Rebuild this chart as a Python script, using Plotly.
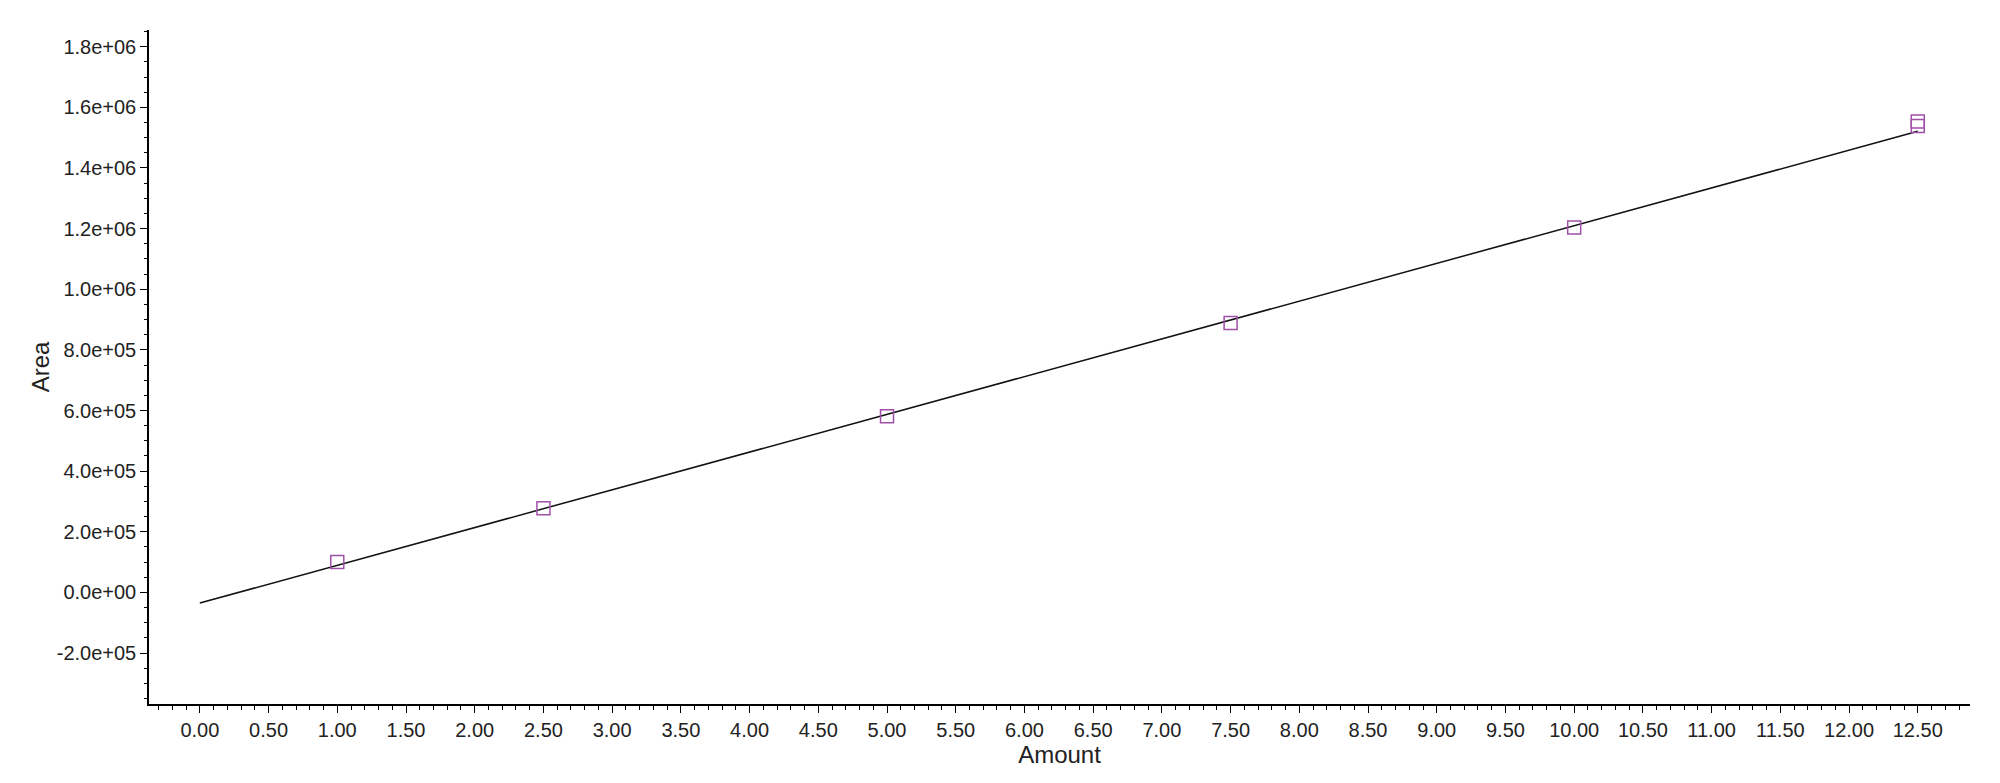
import plotly.graph_objects as go

# calibration standards (amount vs. peak area)
amount = [1.0, 2.5, 5.0, 7.5, 10.0, 12.5, 12.5]
area = [100000, 278000, 581000, 889000, 1204000, 1553000, 1538000]

# fitted calibration line at its two ends
fit_amount = [0.0, 12.5]
fit_area = [-35000, 1521000]

y_tickvals = [-200000, 0, 200000, 400000, 600000, 800000, 1000000,
              1200000, 1400000, 1600000, 1800000]
y_ticktext = ["-2.0e+05", "0.0e+00", "2.0e+05", "4.0e+05", "6.0e+05", "8.0e+05",
              "1.0e+06", "1.2e+06", "1.4e+06", "1.6e+06", "1.8e+06"]

font = dict(family="Liberation Sans, Arial, sans-serif", size=20, color="#222222")

fig = go.Figure()

fig.add_trace(go.Scatter(
    x=fit_amount, y=fit_area, mode="lines",
    line=dict(color="#111111", width=1.5),
    showlegend=False,
))

fig.add_trace(go.Scatter(
    x=amount, y=area, mode="markers",
    marker=dict(symbol="square-open", size=13, color="#a050a8",
                line=dict(width=1.5, color="#a050a8")),
    showlegend=False,
))

# page body has an 8px margin, so the figure is shrunk by that much
fig.update_layout(
    width=1984, height=767,
    margin=dict(l=141, r=22, t=22, b=71),
    paper_bgcolor="white", plot_bgcolor="white",
    font=font,
)

fig.update_xaxes(
    range=[-0.37, 12.88],
    tick0=0, dtick=0.5, tickformat=".2f",
    showgrid=False, zeroline=False,
    showline=True, linecolor="black", linewidth=1.5,
    ticks="outside", ticklen=7, tickcolor="black",
    minor=dict(dtick=0.1, tick0=0, ticks="outside", ticklen=4, tickcolor="black"),
    title=dict(text="Amount", standoff=0),
    automargin=False,
)

fig.update_yaxes(
    range=[-368000, 1855000],
    tickmode="array", tickvals=y_tickvals, ticktext=y_ticktext,
    showgrid=False, zeroline=False,
    showline=True, linecolor="black", linewidth=1.5,
    ticks="outside", ticklen=7, tickcolor="black",
    minor=dict(dtick=50000, tick0=0, ticks="outside", ticklen=3, tickcolor="black"),
    title=dict(text="Area", standoff=0),
    automargin=False,
)

fig.write_html("out.html")
